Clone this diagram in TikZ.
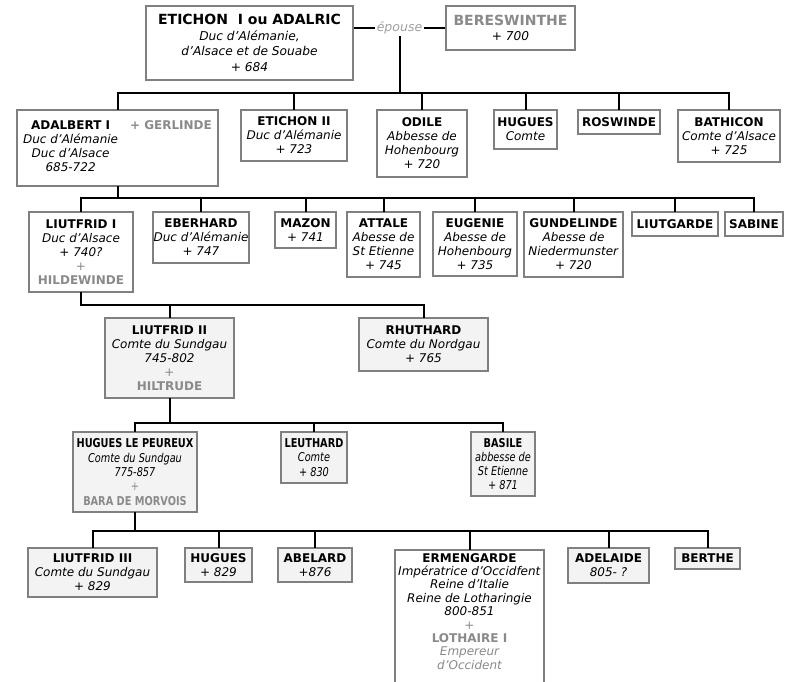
\documentclass[tikz,border=0pt]{standalone}
\usepackage{fontspec}
\setmainfont{DejaVu Sans}
\newfontfamily\narrowfont[FakeStretch=0.8]{DejaVu Sans}
\usepackage{xcolor}
\usepackage{tikz}
\usetikzlibrary{calc}
\definecolor{edge}{HTML}{808080}
\definecolor{spouse}{HTML}{8A8A8A}
\definecolor{faint}{HTML}{A0A0A0}
\definecolor{lowfill}{HTML}{F3F3F3}
\newcommand{\pname}[1]{\textbf{#1}}
\newcommand{\pspouse}[1]{{\color{spouse}\bfseries #1}}
\newcommand{\pplus}{{\color{spouse}+}}

\begin{document}
\begin{tikzpicture}[
  x=1pt,y=-1pt,
  box/.style={draw=edge,fill=white,line width=1.5pt,inner sep=0pt,align=center,
    font=\fontsize{12}{14}\selectfont},
  lbox/.style={box,fill=lowfill},
  small/.style={font=\narrowfont\fontsize{12.2}{14.3}\selectfont},
  top/.style={font=\fontsize{12.2}{15.5}\selectfont},
  link/.style={line width=2pt,line cap=rect}
]
\useasboundingbox (0,0) rectangle (791,681);

% first generation
\node[box,top,minimum width=207pt,minimum height=74pt] (etichon) at (249.5,43)
  {{\fontsize{14}{15.5}\selectfont\pname{ETICHON\ \ I ou ADALRIC}}\\\textit{Duc d'Alémanie,}\\
   \textit{d'Alsace et de Souabe}\\\textit{+ 684}};
\node[box,top,minimum width=129pt,minimum height=44pt] (bereswinthe) at (510.5,28)
  {{\fontsize{14}{15.5}\selectfont\pspouse{BERESWINTHE}}\\\textit{+ 700}};
\draw[line width=1.5pt] (etichon.east |- bereswinthe.west) -- node[fill=white,inner sep=1.5pt,
  font=\fontsize{12.5}{14}\selectfont\itshape,text=faint] (ep) {épouse} (bereswinthe.west);

% children of Etichon
\node[box,minimum width=201pt,minimum height=76pt] (adalbert) at (117.5,148)
  {\begin{tabular}{@{}c@{\hspace{12pt}}l@{}}
   \pname{ADALBERT I} & \pspouse{+ GERLINDE}\\
   \textit{Duc d'Alémanie} & \\ \textit{Duc d'Alsace} & \\ \textit{685-722} &
   \end{tabular}};
\node[box,minimum width=106pt,minimum height=51pt] (etichonii) at (294,135.5)
  {\pname{ETICHON II}\\\textit{Duc d'Alémanie}\\\textit{+ 723}};
\node[box,minimum width=90pt,minimum height=67pt] (odile) at (422,143.5)
  {\pname{ODILE}\\\textit{Abbesse de}\\\textit{Hohenbourg}\\\textit{+ 720}};
\node[box,minimum width=63pt,minimum height=39pt] (huguesi) at (525.5,129.5)
  {\pname{HUGUES}\\\textit{Comte}};
\node[box,minimum width=82pt,minimum height=24pt] (roswinde) at (619,122)
  {\pname{ROSWINDE}};
\node[box,minimum width=102pt,minimum height=52pt] (bathicon) at (729,136)
  {\pname{BATHICON}\\\textit{Comte d'Alsace}\\\textit{+ 725}};

% children of Adalbert
\node[box,minimum width=104pt,minimum height=80pt] (liutfridi) at (81,252)
  {\pname{LIUTFRID I}\\\textit{Duc d'Alsace}\\\textit{+ 740?}\\\pplus\\\pspouse{HILDEWINDE}};
\node[box,minimum width=96pt,minimum height=51pt] (eberhard) at (201,237.5)
  {\pname{EBERHARD}\\\textit{Duc d'Alémanie}\\\textit{+ 747}};
\node[box,minimum width=61pt,minimum height=36pt] (mazon) at (305.5,230)
  {\pname{MAZON}\\\textit{+ 741}};
\node[box,minimum width=73pt,minimum height=65pt] (attale) at (383.5,244.5)
  {\pname{ATTALE}\\\textit{Abesse de}\\\textit{St Etienne}\\\textit{+ 745}};
\node[box,minimum width=84pt,minimum height=64pt] (eugenie) at (475,244)
  {\pname{EUGENIE}\\\textit{Abesse de}\\\textit{Hohenbourg}\\\textit{+ 735}};
\node[box,minimum width=99pt,minimum height=65pt] (gundelinde) at (573.5,244.5)
  {\pname{GUNDELINDE}\\\textit{Abesse de}\\\textit{Niedermunster}\\\textit{+ 720}};
\node[box,minimum width=86pt,minimum height=24pt] (liutgarde) at (675,224)
  {\pname{LIUTGARDE}};
\node[box,minimum width=58pt,minimum height=24pt] (sabine) at (754,224)
  {\pname{SABINE}};

% children of Liutfrid I
\node[lbox,minimum width=129pt,minimum height=80pt] (liutfridii) at (169.5,358)
  {\pname{LIUTFRID II}\\\textit{Comte du Sundgau}\\\textit{745-802}\\\pplus\\\pspouse{HILTRUDE}};
\node[lbox,minimum width=129pt,minimum height=53pt] (rhuthard) at (423.5,344.5)
  {\pname{RHUTHARD}\\\textit{Comte du Nordgau}\\\textit{+ 765}};

% children of Liutfrid II
\node[lbox,small,minimum width=124pt,minimum height=80pt] (peureux) at (135,472)
  {\pname{HUGUES LE PEUREUX}\\\textit{Comte du Sundgau}\\\textit{775-857}\\\pplus\\\pspouse{BARA DE MORVOIS}};
\node[lbox,small,minimum width=66pt,minimum height=51pt] (leuthard) at (314,457.5)
  {\pname{LEUTHARD}\\\textit{Comte}\\\textit{+ 830}};
\node[lbox,small,minimum width=64pt,minimum height=64pt] (basile) at (503,464)
  {\pname{BASILE}\\\textit{abbesse de}\\\textit{St Etienne}\\\textit{+ 871}};

% children of Hugues le Peureux
\node[lbox,minimum width=129pt,minimum height=49pt] (liutfridiii) at (92.5,572.5)
  {\pname{LIUTFRID III}\\\textit{Comte du Sundgau}\\\textit{+ 829}};
\node[lbox,minimum width=67pt,minimum height=34pt] (huguesii) at (218.5,565)
  {\pname{HUGUES}\\\textit{+ 829}};
\node[lbox,minimum width=74pt,minimum height=34pt] (abelard) at (315,565)
  {\pname{ABELARD}\\\textit{+876}};
\node[box,anchor=north,minimum width=149pt,inner ysep=3.5pt,
  font=\fontsize{12}{13.4}\selectfont] (ermengarde) at (469.5,549)
  {\pname{ERMENGARDE}\\\textit{Impératrice d'Occidfent}\\\textit{Reine d'Italie}\\
   \textit{Reine de Lotharingie}\\\textit{800-851}\\\pplus\\\pspouse{LOTHAIRE I}\\
   {\color{spouse}\itshape Empereur}\\{\color{spouse}\itshape d'Occident}\\[8pt]};
\node[lbox,minimum width=81pt,minimum height=35pt] (adelaide) at (608.5,565.5)
  {\pname{ADELAIDE}\\\textit{805- ?}};
\node[lbox,minimum width=65pt,minimum height=21pt] (berthe) at (707.5,558.5)
  {\pname{BERTHE}};

% bus lines
\coordinate (b2) at (0,93);
\coordinate (b3) at (0,198);
\coordinate (b4) at (0,305);
\coordinate (b5) at (0,423);
\coordinate (b6) at (0,531);

\draw[link] (ep.south) -- (ep.south |- b2);
\draw[link] (adalbert.north |- b2) -- (bathicon.north |- b2);
\foreach \n in {adalbert,etichonii,odile,huguesi,roswinde,bathicon}
  \draw[link] (\n.north) -- (\n.north |- b2);

\draw[link] (adalbert.south) -- (adalbert.south |- b3);
\draw[link] (liutfridi.north |- b3) -- (sabine.north |- b3);
\foreach \n in {liutfridi,eberhard,mazon,attale,eugenie,gundelinde,liutgarde,sabine}
  \draw[link] (\n.north) -- (\n.north |- b3);

\draw[link] (liutfridi.south) -- (liutfridi.south |- b4);
\draw[link] (liutfridi.south |- b4) -- (rhuthard.north |- b4);
\foreach \n in {liutfridii,rhuthard}
  \draw[link] (\n.north) -- (\n.north |- b4);

\draw[link] (liutfridii.south) -- (liutfridii.south |- b5);
\draw[link] (peureux.north |- b5) -- (basile.north |- b5);
\foreach \n in {peureux,leuthard,basile}
  \draw[link] (\n.north) -- (\n.north |- b5);

\draw[link] (peureux.south) -- (peureux.south |- b6);
\draw[link] (liutfridiii.north |- b6) -- (berthe.north |- b6);
\foreach \n in {liutfridiii,huguesii,abelard,ermengarde,adelaide,berthe}
  \draw[link] (\n.north) -- (\n.north |- b6);
\end{tikzpicture}
\end{document}
